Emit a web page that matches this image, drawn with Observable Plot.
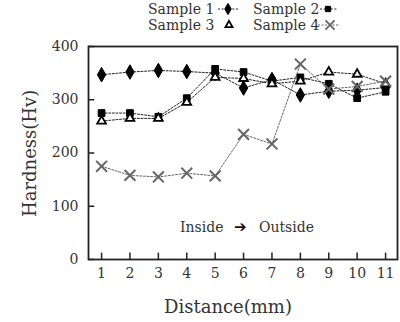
<!DOCTYPE html>
<html><head><meta charset="utf-8">
<script src="https://cdn.jsdelivr.net/npm/d3@7"></script>
<script src="https://cdn.jsdelivr.net/npm/@observablehq/plot@0.6"></script>
<style>
body{margin:0;background:#fff;}
#wrap{position:relative;width:400px;height:322px;font-family:"DejaVu Serif",serif;color:#333;}
#wrap svg{position:absolute;left:0;top:0;}
.t{position:absolute;white-space:nowrap;font-family:"DejaVu Serif",serif;color:#333;}
</style></head><body>
<div id="wrap"></div>
<script>
const distance = [1,2,3,4,5,6,7,8,9,10,11];
const sample1 = [347,352,355,353,350,322,338,309,316,318,323];
const sample2 = [275,275,268,303,358,352,335,342,330,303,315];
const sample3 = [260,265,265,295,342,340,330,335,352,348,330];
const sample4 = [175,158,155,162,157,235,217,367,320,325,335];
const yTicks = [0,100,200,300,400];
const seriesNames = ["Sample 1","Sample 2","Sample 3","Sample 4"];
const seriesValues = [sample1,sample2,sample3,sample4];
const symbols = ["diamond","square","triangle2","times"];

const styles = [
  {fill:"#000",stroke:"#000",line:"#222",r:4.4,sw:1},
  {fill:"#000",stroke:"#000",line:"#222",r:3.8,sw:1},
  {fill:"#fff",stroke:"#000",line:"#222",r:4.2,sw:1.8},
  {fill:"none",stroke:"#666",line:"#666",r:5,sw:2}
];

const marks = [];
seriesNames.forEach((name,k)=>{
  const data = distance.map((d,i)=>({x:d,y:seriesValues[k][i]}));
  marks.push(Plot.line(data,{x:"x",y:"y",stroke:styles[k].line,strokeWidth:1,strokeDasharray:"2,1.6"}));
});
seriesNames.forEach((name,k)=>{
  const data = distance.map((d,i)=>({x:d,y:seriesValues[k][i]}));
  marks.push(Plot.dot(data,{x:"x",y:"y",symbol:()=>symbols[k],r:styles[k].r,fill:styles[k].fill,stroke:styles[k].stroke,strokeWidth:styles[k].sw}));
});

const xMin = 0.54, xMax = 11.42;
const plot = Plot.plot({
  width:400,height:322,
  marginTop:46,marginBottom:63,marginLeft:88,marginRight:3,
  x:{domain:[xMin,xMax]},
  y:{domain:[0,400]},
  style:{fontFamily:"DejaVu Serif, serif",fontSize:"14px",color:"#333",background:"#fff"},
  marks:[
    Plot.ruleX(distance,{x:d=>d,y1:0,y2:12,stroke:"#222",strokeWidth:1.5}),
    Plot.ruleY(yTicks,{y:d=>d,x1:xMin,x2:xMin+0.22,stroke:"#222",strokeWidth:1.5}),
    Plot.axisX(distance,{tickSize:0,tickPadding:9,label:null,fontSize:14}),
    Plot.axisY(yTicks,{tickSize:0,tickPadding:10,label:null,fontSize:14}),
    ...marks,
    Plot.frame({stroke:"#222",strokeWidth:1.8})
  ]
});
const wrap = document.getElementById("wrap");
wrap.appendChild(plot);

function addText(txt,left,top,size,extra){
  const d=document.createElement("div");d.className="t";d.textContent=txt;
  d.style.left=left+"px";d.style.top=top+"px";d.style.fontSize=size+"px";
  if(extra) Object.assign(d.style,extra);
  wrap.appendChild(d);return d;
}
// axis titles
addText("Distance(mm)",164,296,18);
addText("Hardness(Hv)",0,0,18,{transformOrigin:"0 0",transform:"translate(19px,217px) rotate(-90deg)"});
// annotation
addText("Inside",180,219,14);
addText("➔",234,218,15,{fontFamily:"DejaVu Sans",color:"#111"});
addText("Outside",259,219,14);

// legend
const ns="http://www.w3.org/2000/svg";
const leg=document.createElementNS(ns,"svg");
leg.setAttribute("width",400);leg.setAttribute("height",40);
leg.style.position="absolute";leg.style.left="0";leg.style.top="0";
wrap.appendChild(leg);
const legPos=[{x:148,y:14,mx:228,lx1:218,lx2:238,line:true},{x:253,y:14,mx:328,lx1:320,lx2:337,line:true},
              {x:148,y:30,mx:229,line:false},{x:253,y:30,mx:330,lx1:318,lx2:340,line:true}];
const d3sym=[d3.symbolDiamond,d3.symbolSquare,d3.symbolTriangle2,d3.symbolTimes];
const legR=[3.4,3,3.4,4.2];
seriesNames.forEach((name,k)=>{
  const p=legPos[k];
  const t=document.createElementNS(ns,"text");
  t.setAttribute("x",p.x);t.setAttribute("y",p.y);t.setAttribute("font-size",14);
  t.setAttribute("font-family","DejaVu Serif, serif");t.setAttribute("fill","#333");
  t.textContent=name;leg.appendChild(t);
  const cy=p.y-5;
  if(p.line){
    const l=document.createElementNS(ns,"line");
    l.setAttribute("x1",p.lx1);l.setAttribute("x2",p.lx2);l.setAttribute("y1",cy);l.setAttribute("y2",cy);
    l.setAttribute("stroke",styles[k].line);l.setAttribute("stroke-dasharray","2,1.6");leg.appendChild(l);
  }
  const pa=document.createElementNS(ns,"path");
  const r=legR[k];
  pa.setAttribute("d",d3.symbol(d3sym[k],Math.PI*r*r)());
  pa.setAttribute("transform",`translate(${p.mx},${cy})`);
  pa.setAttribute("fill",styles[k].fill);pa.setAttribute("stroke",styles[k].stroke);
  pa.setAttribute("stroke-width",k===3?1.8:styles[k].sw);
  leg.appendChild(pa);
});
</script>
</body></html>
